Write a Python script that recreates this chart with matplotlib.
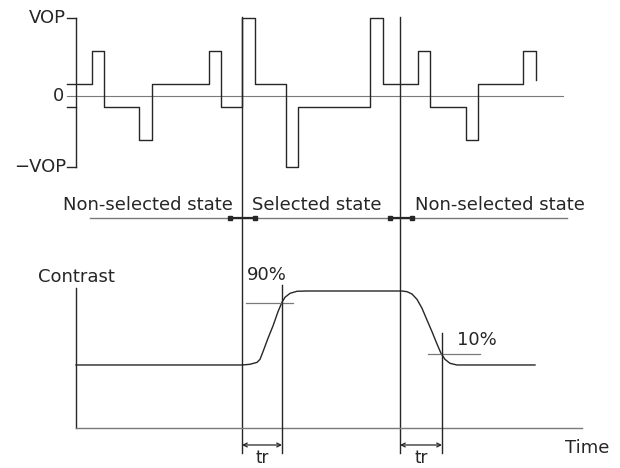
import numpy as np
from matplotlib import pyplot as plt

plt.rcParams['font.family'] = ['DejaVu Sans']

# drive waveform (time in divisions, voltage relative to VOP)
t_wave = [-0.9, 1.6, 2.8, 6.3, 7.6, 13.3, 14.5, 16.6, 17.9, 21.0, 22.2, 29.4, 30.7, 34.2, 35.4, 39.0, 40.2, 44.7, 46.0]
v_wave = [0.15, 0.58, -0.14, -0.56, 0.15, 0.58, -0.14, 1.0, 0.15, -0.91, -0.14, 1.0, 0.15, 0.58, -0.14, -0.56, 0.15, 0.58, 0.2]
vop = 1.0
vop_neg = -0.91
v_small = -0.14

# state boundaries
t_sel_on = 16.6
t_sel_off = 32.4

# optical response (contrast)
t_con = [0, 16.6, 17.4, 18.1, 18.4, 18.7, 19.2, 19.7, 20.2, 20.6, 20.9, 21.4, 22.1, 23.1,
         32.4, 32.6, 33.1, 33.6, 34.1, 34.6, 35.1, 35.6, 36.1, 36.5, 36.9, 37.4, 38.1, 39.1, 45.9]
c_con = [0.46, 0.46, 0.465, 0.479, 0.501, 0.557, 0.655, 0.745, 0.849, 0.918, 0.954, 0.983, 0.998, 1.0,
         1.0, 1.0, 0.995, 0.978, 0.939, 0.874, 0.788, 0.703, 0.613, 0.545, 0.501, 0.472, 0.46, 0.46, 0.46]
t90 = 20.6
c90 = 0.91
t10 = 36.6
c10 = 0.54

states = ['Non-selected state', 'Selected state', 'Non-selected state']
state_x = [-1.3, 17.6, 33.9]

ink = '#262626'
grey = '#7a7a7a'
fs = 13

fig = plt.figure(figsize=(6.2, 4.68), dpi=100)
xlim = (-7.6, 54.4)

# top : waveform
ax_v = fig.add_axes([0, 1 - 190 / 468, 1, 190 / 468])
ax_v.set_xlim(xlim)
ax_v.set_ylim(-94 / 78, 96 / 78)
ax_v.axis('off')

ax_v.plot([-0.9, 48.7], [0, 0], color=grey, lw=0.8)
ax_v.plot([0, 0], [vop_neg, vop], color=ink, lw=1.0)
for lv in [vop, vop_neg, v_small]:
    ax_v.plot([-0.9, 0], [lv, lv], color=ink, lw=1.0)
ax_v.step(t_wave, v_wave, where='post', color=ink, lw=1.0)

ax_v.text(-1.0, vop, 'VOP', ha='right', va='center', fontsize=fs, color=ink)
ax_v.text(-1.2, 0, '0', ha='right', va='center', fontsize=fs, color=ink)
ax_v.text(-1.0, vop_neg, '\u2212VOP', ha='right', va='center', fontsize=fs, color=ink)

# bottom : contrast
ax_c = fig.add_axes([0, 0, 1, 278 / 468])
ax_c.set_xlim(xlim)
ax_c.set_ylim(-40 / 137, 238 / 137)
ax_c.axis('off')

# selected state boundaries run through both parts
for tv in [t_sel_on, t_sel_off]:
    ax_c.plot([tv, tv], [-0.182, 3.0], color=ink, lw=1.0, clip_on=False)

# state line
ax_c.plot([1.4, 49.1], [1.533, 1.533], color=grey, lw=1.0)
for a, b in [(15.4, 17.9), (31.4, 33.6)]:
    ax_c.plot([a, b], [1.533, 1.533], color=ink, lw=1.6, marker='s', markersize=2.5)
for s, x in zip(states, state_x):
    ax_c.text(x, 1.628, s, ha='left', va='center', fontsize=fs, color=ink)

# axes of the contrast plot
ax_c.plot([0, 0], [0, 1.02], color=ink, lw=1.0)
ax_c.plot([0, 50.6], [0, 0], color=grey, lw=1.0)
ax_c.text(-3.8, 1.10, 'Contrast', ha='left', va='center', fontsize=fs, color=ink)
ax_c.text(48.9, -0.146, 'Time', ha='left', va='center', fontsize=fs, color=ink)

ax_c.plot(t_con, c_con, color=ink, lw=1.0)

# 90% / 10% marks
ax_c.plot([17.0, 21.7], [c90, c90], color=grey, lw=0.9)
ax_c.plot([t90, t90], [-0.182, 1.044], color=ink, lw=1.0)
ax_c.text(17.1, 1.117, '90%', ha='left', va='center', fontsize=fs, color=ink)
ax_c.plot([35.2, 40.4], [c10, c10], color=grey, lw=0.9)
ax_c.plot([t10, t10], [-0.182, 0.693], color=ink, lw=1.0)
ax_c.text(38.1, 0.642, '10%', ha='left', va='center', fontsize=fs, color=ink)

# tr dimensions
for a, b in [(t_sel_on, t90), (t_sel_off, t10)]:
    ax_c.annotate('', xy=(a, -0.124), xytext=(b, -0.124),
                  arrowprops=dict(arrowstyle='<->', color=ink, lw=0.9,
                                  shrinkA=0, shrinkB=0, mutation_scale=7))
    ax_c.text((a + b) / 2, -0.222, 'tr', ha='center', va='center', fontsize=12, color=ink)

fig.savefig('out.png', dpi=100)
